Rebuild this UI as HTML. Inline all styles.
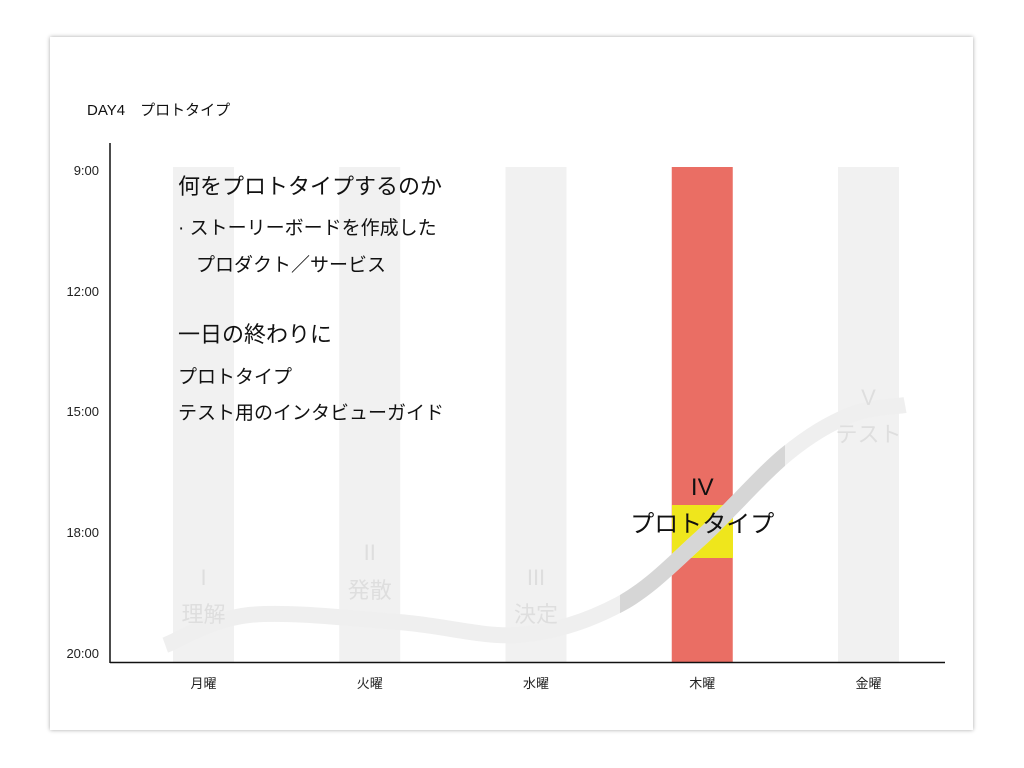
<!DOCTYPE html>
<html><head><meta charset="utf-8"><style>
body{margin:0;width:1024px;height:768px;background:#fff;overflow:hidden;font-family:"Liberation Sans","Noto Sans CJK JP",sans-serif}
.card{position:absolute;left:50px;top:37px;width:923px;height:693px;background:#fff;box-shadow:0 0 4px rgba(0,0,0,0.35)}
</style></head><body>
<div class="card"></div>
<svg width="1024" height="768" style="position:absolute;left:0;top:0" font-family="Liberation Sans, Noto Sans CJK JP, sans-serif">
<defs><clipPath id="mid"><rect x="620" y="0" width="165" height="768"/></clipPath></defs>
<g id="cols"></g>
<rect x="672" y="505" width="61" height="53" fill="#efe61c"/>
<g id="curve"></g>
<g id="labels"></g>
<g id="axes"></g>
<text x="87" y="115" font-size="15" fill="#111">DAY4　プロトタイプ</text>
<g fill="#111">
<text x="178" y="194" font-size="22">何をプロトタイプするのか</text>
<text x="178" y="234" font-size="19">· ストーリーボードを作成した</text>
<text x="196" y="271" font-size="19">プロダクト／サービス</text>
<text x="178" y="342" font-size="22">一日の終わりに</text>
<text x="178" y="383" font-size="19">プロトタイプ</text>
<text x="178" y="419" font-size="19">テスト用のインタビューガイド</text>
</g>
</svg>
<script>
const days=["月曜","火曜","水曜","木曜","金曜"];
const phaseNum=["I","II","III","IV","V"];
const phaseName=["理解","発散","決定","プロトタイプ","テスト"];
const colStart=[9,9,9,9,9];
const colEnd=[20,20,20,20,20];
const activeDay=3;
const timeTicks=[9,12,15,18,20];
const tickLabels=["9:00","12:00","15:00","18:00","20:00"];
const curveDay=[-0.23,0.28,1.18,1.9,2.5,2.98,3.5,3.89,4.22];
const curveHour=[19.87,19.37,19.49,19.7,19.2,18.13,16.09,15.1,14.85];
const NS="http://www.w3.org/2000/svg";
const tickY=[170,291,411,532,653];
function yS(h){for(let i=0;i<timeTicks.length-1;i++){const a=timeTicks[i],b=timeTicks[i+1];if(h<=b||i==timeTicks.length-2)return tickY[i]+(h-a)/(b-a)*(tickY[i+1]-tickY[i]);}}
function xS(d){return 203.5+d*166.25;}
function mk(t,a,p){const e=document.createElementNS(NS,t);for(const k in a)e.setAttribute(k,a[k]);p.appendChild(e);return e;}
const cols=document.getElementById('cols');
days.forEach((d,i)=>{const y1=yS(colStart[i])-3,y2=yS(colEnd[i])+9;
const r=mk('rect',{x:xS(i)-30.5,y:y1,width:61,height:y2-y1,fill:i==activeDay?'#ea6e64':'#f1f1f1'},cols);

});
// curve
const pts=curveDay.map((d,i)=>[xS(d),yS(curveHour[i])]);
let p='M'+pts[0][0]+','+pts[0][1];
for(let i=0;i<pts.length-1;i++){const p0=pts[Math.max(0,i-1)],p1=pts[i],p2=pts[i+1],p3=pts[Math.min(pts.length-1,i+2)];
p+=' C'+(p1[0]+(p2[0]-p0[0])/6)+','+(p1[1]+(p2[1]-p0[1])/6)+' '+(p2[0]-(p3[0]-p1[0])/6)+','+(p2[1]-(p3[1]-p1[1])/6)+' '+p2[0]+','+p2[1];}
const cg=document.getElementById('curve');
const c1=mk('path',{d:p,fill:'none',stroke:'#efefef','stroke-width':16},cg);


const c2=mk('path',{d:p,fill:'none',stroke:'#d6d6d6','stroke-width':16,'clip-path':'url(#mid)'},cg);


// phase labels
const lg=document.getElementById('labels');
const numY=[585,560,585,495,405],nameY=[622,598,622,532,442];
days.forEach((d,i)=>{const act=i==activeDay;const col=act?'#111':'#dedede';
const n=mk('text',{x:xS(i),y:numY[i],'text-anchor':'middle','font-size':act?24:22,fill:col},lg);n.textContent=phaseNum[i];


const t=mk('text',{x:xS(i),y:nameY[i],'text-anchor':'middle','font-size':act?24:22,fill:col},lg);t.textContent=phaseName[i];

});
// axes
const ag=document.getElementById('axes');
const ya=mk('line',{x1:110,y1:143,x2:110,y2:663,stroke:'#111','stroke-width':1.5},ag);


const xa=mk('line',{x1:110,y1:662.5,x2:945,y2:662.5,stroke:'#111','stroke-width':1.5},ag);


timeTicks.forEach((h,i)=>{const t=mk('text',{x:99,y:yS(h)+5,'text-anchor':'end','font-size':13,fill:'#222'},ag);t.textContent=tickLabels[i];

});
days.forEach((d,i)=>{const t=mk('text',{x:xS(i),y:688,'text-anchor':'middle','font-size':13,fill:'#222'},ag);t.textContent=d;

});
</script>
</body></html>
